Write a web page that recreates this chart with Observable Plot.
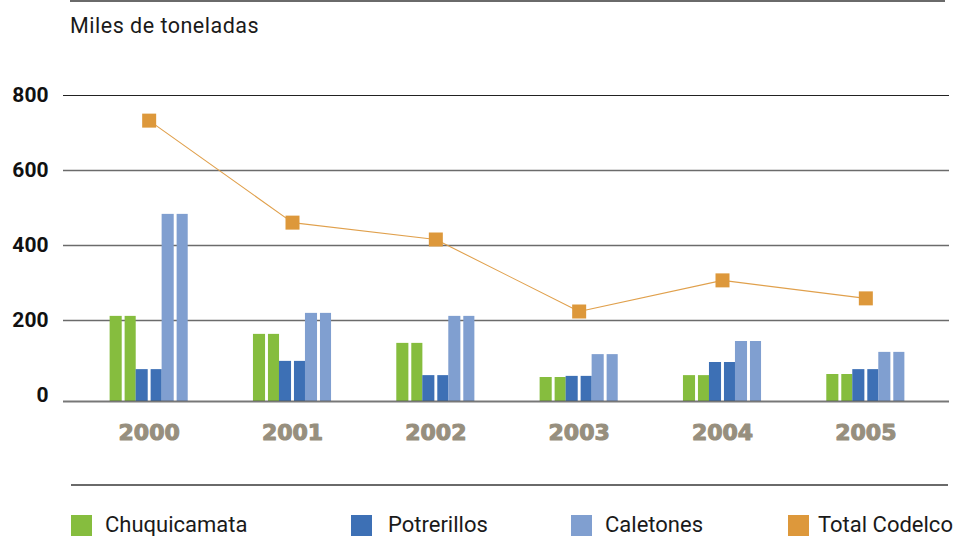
<!DOCTYPE html>
<html>
<head>
<meta charset="utf-8">
<script src="https://cdn.jsdelivr.net/npm/d3@7"></script>
<script src="https://cdn.jsdelivr.net/npm/@observablehq/plot@0.6"></script>
<style>
  html, body { margin: 0; padding: 0; background: #fff; }
  #wrap { position: relative; width: 953px; height: 536px; overflow: hidden; font-family: Roboto, sans-serif; }
  #chart { position: absolute; left: 0; top: 0; }
  .rule { position: absolute; background: #6a6a6a; }
  #title { position: absolute; left: 70px; top: 12px; font-size: 21.5px; letter-spacing: 0.5px; color: #1a1a1a; line-height: 28px; }
  .sq { position: absolute; top: 515px; width: 21px; height: 21px; }
  .lt { position: absolute; top: 511px; font-size: 22px; line-height: 28px; color: #1a1a1a; white-space: nowrap; }
</style>
</head>
<body>
<div id="wrap">
  <div class="rule" style="left:70px;top:0;width:875px;height:2px"></div>
  <div id="title">Miles de toneladas</div>
  <div id="chart"></div>
  <div class="rule" style="left:71px;top:484px;width:877px;height:2px"></div>
  <div id="legend"></div>
</div>
<script>
const years = ["2000", "2001", "2002", "2003", "2004", "2005"];
const chuquicamata = [211, 163, 139, 48, 53, 56];
const potrerillos = [69, 91, 53, 51, 88, 69];
const caletones = [483, 219, 211, 109, 144, 115];
const totalCodelco = [733, 461, 416, 224, 307, 259];
const seriesNames = ["Chuquicamata", "Potrerillos", "Caletones", "Total Codelco"];
const seriesColors = ["#86bd3e", "#3d70b5", "#809fd0", "#dd983b"];
const yTicks = [0, 200, 400, 600, 800];

const rows = years.map((year, i) => ({
  year,
  Chuquicamata: chuquicamata[i],
  Potrerillos: potrerillos[i],
  Caletones: caletones[i],
  total: totalCodelco[i]
}));

const bw = 26; // width of one series pair
const barMarks = [];
["Chuquicamata", "Potrerillos", "Caletones"].forEach((s, i) => {
  const dx = (i - 1) * bw;
  barMarks.push(Plot.barY(rows, {x: "year", y: s, fill: seriesColors[i], dx, insetRight: 14, insetBottom: -6}));
  barMarks.push(Plot.barY(rows, {x: "year", y: s, fill: seriesColors[i], dx, insetLeft: 15, insetBottom: -6}));
});

const chart = Plot.plot({
  width: 953,
  height: 536,
  marginLeft: 77,
  marginRight: 16,
  marginTop: 95,
  marginBottom: 141,
  style: {fontFamily: "Roboto, sans-serif", background: "transparent", overflow: "visible"},
  x: {type: "band", domain: years, paddingInner: 0.818, paddingOuter: 0.409, round: false, axis: null},
  y: {domain: [0, 800], range: [395, 95], axis: null},
  marks: [
    Plot.ruleY([200, 400, 600], {stroke: "#6b6b6b", strokeWidth: 1.3, insetLeft: -14, insetRight: -12}),
    Plot.ruleY([800], {stroke: "#222", strokeWidth: 1.2, insetLeft: -14, insetRight: -12}),
    ...barMarks,
    Plot.ruleY([0], {dy: 6, stroke: "#555", strokeWidth: 1.8, strokeOpacity: 0.8, insetLeft: -14, insetRight: -12}),
    Plot.line(rows, {x: "year", y: "total", stroke: "#e0a04c", strokeWidth: 1.1}),
    Plot.dot(rows, {x: "year", y: "total", symbol: "square", r: 7.9, fill: seriesColors[3], stroke: "none"}),
    Plot.text(yTicks, {y: d => d, text: d => String(d), frameAnchor: "left", dx: -29, textAnchor: "end", fontSize: 21, fontWeight: "bold", fill: "#111"}),
    Plot.text(years, {x: d => d, y: () => 0, text: d => d, dy: 37, fontSize: 22, fontWeight: 900, fontFamily: "DejaVu Sans", fill: "#978f7e", stroke: "#978f7e", strokeWidth: 1.1})
  ]
});
document.getElementById("chart").appendChild(chart);

const legendSquareLeft = [71, 351, 571, 788];
const legendTextLeft = [105, 388, 605, 818];
const legend = document.getElementById("legend");
seriesNames.forEach((name, i) => {
  const sq = document.createElement("div");
  sq.className = "sq";
  sq.style.left = legendSquareLeft[i] + "px";
  sq.style.background = seriesColors[i];
  legend.appendChild(sq);
  const t = document.createElement("div");
  t.className = "lt";
  t.style.left = legendTextLeft[i] + "px";
  t.textContent = name;
  legend.appendChild(t);
});
</script>
</body>
</html>
